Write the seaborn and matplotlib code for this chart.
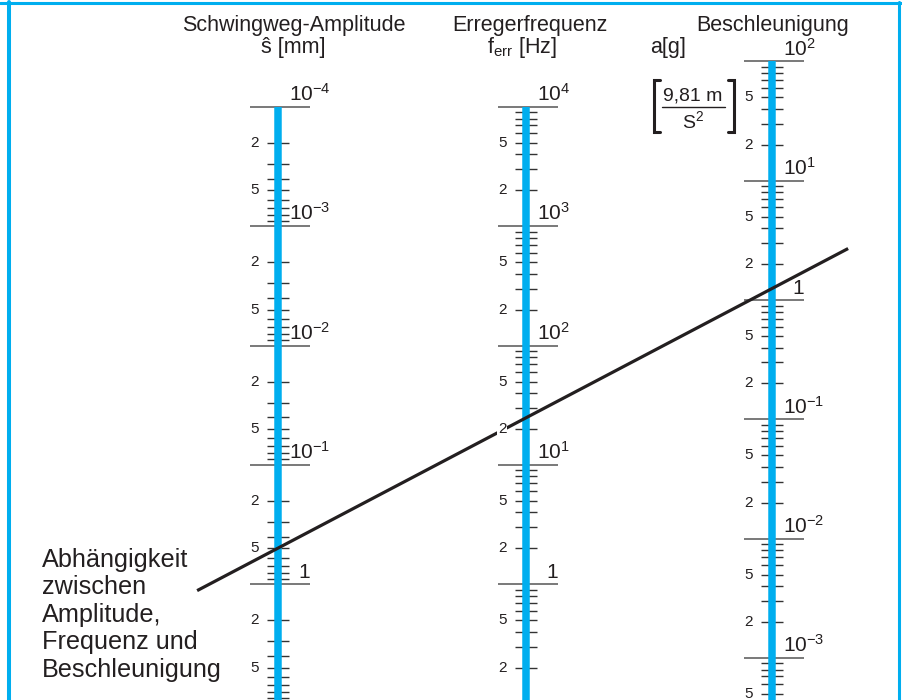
import numpy as np
import matplotlib
matplotlib.use('Agg')
import matplotlib.pyplot as plt
import seaborn as sns

# scale values of the nomogram
amp_decades = [1e-4, 1e-3, 1e-2, 1e-1, 1, 1e1]
amp_labels = ['10^{-4}', '10^{-3}', '10^{-2}', '10^{-1}', '1', '10^{1}']
freq_decades = [1e4, 1e3, 1e2, 1e1, 1, 1e-1]
freq_labels = ['10^{4}', '10^{3}', '10^{2}', '10^{1}', '1', '10^{-1}']
acc_decades = [1e2, 1e1, 1, 1e-1, 1e-2, 1e-3]
acc_labels = ['10^{2}', '10^{1}', '1', '10^{-1}', '10^{-2}', '10^{-3}']
minor_steps = [2, 3, 4, 5, 6, 7, 8, 9]
labelled_steps = [2, 5]

# example reading drawn across the three scales
s_read = 0.5    # mm
f_read = 25     # Hz
a_read = 1.25   # g

legend_lines = ['Abhängigkeit', 'zwischen', 'Amplitude,', 'Frequenz und', 'Beschleunigung']

# style
sns.set_theme(style='white')
plt.rcParams['font.family'] = ['Liberation Sans', 'DejaVu Sans']
plt.rcParams['mathtext.fontset'] = 'custom'
plt.rcParams['mathtext.rm'] = 'Liberation Sans'
plt.rcParams['mathtext.it'] = 'Liberation Sans:italic'
blue = '#00aeef'
ink = '#231f20'
grey = '#555555'

W, H = 903, 700
DEC = 119.3  # pixels per decade
fig = plt.figure(figsize=(W / 100, H / 100), dpi=100)

# background canvas in pixel coords for texts and frame
canvas = fig.add_axes([0, 0, 1, 1], zorder=0)
canvas.set_xlim(0, W)
canvas.set_ylim(H, 0)
canvas.axis('off')


def make_scale(x_bar, top_y, decades, labels, increasing, z):
    ax = fig.add_axes([(x_bar - 30) / W, 0, 63 / W, 1], zorder=z)
    ax.set_xlim(-30, 33)
    ax.set_yscale('log')
    t = decades[0]
    if increasing:
        ax.set_ylim(t * 10 ** ((H - top_y) / DEC), t / 10 ** (top_y / DEC))
    else:
        ax.set_ylim(t / 10 ** ((H - top_y) / DEC), t * 10 ** (top_y / DEC))
    ax.axis('off')
    bottom = ax.get_ylim()[0]
    lo, hi = min(bottom, t), max(bottom, t)

    # blue bar
    ax.vlines(0, t, bottom, color=blue, lw=5.4, zorder=3)
    # decade lines
    ax.hlines(decades, -28, 32, color=grey, lw=1.1, zorder=2)
    for d, lab in zip(decades, labels):
        if lab == '1':
            ax.annotate('1', (32, d), xytext=(0, 1.5), textcoords='offset points',
                        ha='right', va='bottom', fontsize=15, color=ink)
        else:
            ax.annotate(r'$\mathregular{' + lab + '}$', (11, d), xytext=(0, 1.5),
                        textcoords='offset points', ha='left', va='bottom',
                        fontsize=15, color=ink)
    # minor ticks 2..9 inside each decade
    for e in range(-5, 6):
        for m in minor_steps:
            v = m * 10.0 ** e
            if lo * 1.0001 < v < hi * 0.9999:
                ax.hlines(v, -11, 11, color='#333333', lw=1.0, zorder=2)
                if m in labelled_steps:
                    ax.text(-19, v, str(m), ha='right', va='center', fontsize=11,
                            color=ink, zorder=5,
                            bbox=dict(facecolor='white', edgecolor='none', pad=0.6))
    return ax


ax_amp = make_scale(277.7, 107, amp_decades, amp_labels, True, 1)
ax_acc = make_scale(772, 61.5, acc_decades, acc_labels, False, 1)
ax_freq = make_scale(525.7, 107, freq_decades, freq_labels, False, 2)

# reading line through s and a, extended past the outer scales
p1 = ax_amp.transData.transform((0, s_read))
p3 = ax_acc.transData.transform((0, a_read))
ts = np.array([-0.163, 1.154])
pts = p1 + ts[:, None] * (p3 - p1)
line_xy = ax_freq.transData.inverted().transform(pts)
ax_freq.plot(line_xy[:, 0], line_xy[:, 1], color=ink, lw=2.3, zorder=4, clip_on=False,
             solid_capstyle='butt')

# headers
canvas.text(294, 26, 'Schwingweg-Amplitude', ha='center', va='center', fontsize=15.5, color=ink)
canvas.text(293, 48, 'ŝ [mm]', ha='center', va='center', fontsize=15.5, color=ink)
canvas.text(530, 26, 'Erregerfrequenz', ha='center', va='center', fontsize=15.5, color=ink)
canvas.text(522, 48, r'$\mathregular{f_{err}}$ [Hz]', ha='center', va='center', fontsize=15.5, color=ink)
canvas.text(773, 26, 'Beschleunigung', ha='center', va='center', fontsize=15.5, color=ink)
canvas.text(668, 47, 'a[g]', ha='center', va='center', fontsize=15.5, color=ink)

# unit fraction [9,81 m / S^2]
canvas.text(693, 96, '9,81 m', ha='center', va='center', fontsize=14, color=ink)
canvas.plot([662, 725], [107, 107], color=ink, lw=1.0)
canvas.text(693, 121, r'$\mathregular{S^2}$', ha='center', va='center', fontsize=14, color=ink)
canvas.plot([660, 654, 654, 660], [80, 80, 132, 132], color=ink, lw=2.2, solid_joinstyle='miter')
canvas.plot([728, 734, 734, 728], [80, 80, 132, 132], color=ink, lw=2.2, solid_joinstyle='miter')

# legend text bottom left
for i, txt in enumerate(legend_lines):
    canvas.text(42, 567 + i * 27.5, txt, ha='left', va='baseline', fontsize=18.2, color=ink)

# light blue frame
canvas.plot([0, W], [2.5, 2.5], color=blue, lw=2.2)
canvas.plot([9.5, 9.5], [2, H], color=blue, lw=2.9)
canvas.plot([899.5, 899.5], [2, H], color=blue, lw=2.2)

fig.savefig('out.png', dpi=100)
plt.close('all')
